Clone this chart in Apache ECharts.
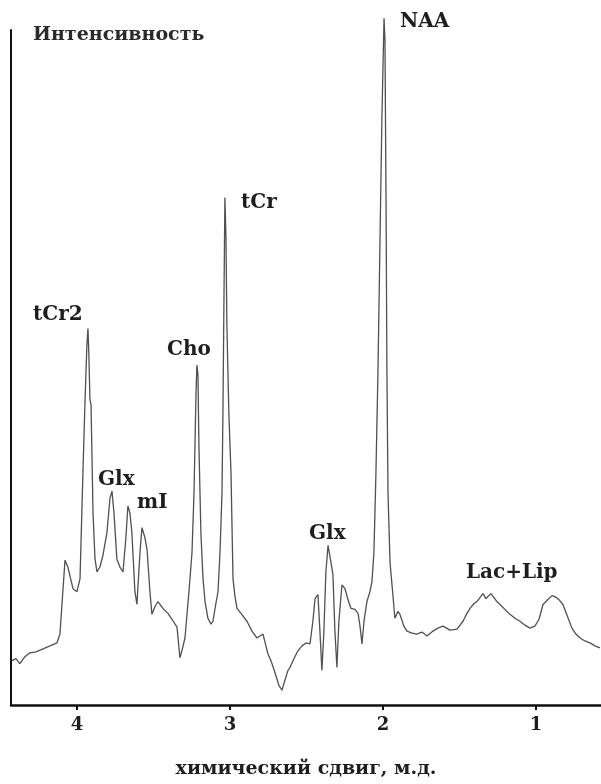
<!DOCTYPE html>
<html>
<head>
<meta charset="utf-8">
<script src="https://cdn.jsdelivr.net/npm/echarts@6/dist/echarts.min.js"></script>
<style>
  html, body { margin: 0; padding: 0; background: #fff; }
  #chart { width: 601px; height: 784px; }
</style>
</head>
<body>
<div id="chart"></div>
<script>
// химический сдвиг, м.д. (ppm)
var shift = [
  4.425, 4.399, 4.373, 4.340, 4.307, 4.268, 4.222, 4.176, 4.131, 4.111,
  4.098, 4.078, 4.059, 4.026, 4.000, 3.980, 3.961, 3.948, 3.935, 3.928,
  3.922, 3.915, 3.908, 3.895, 3.882, 3.869, 3.850, 3.830, 3.804, 3.784,
  3.771, 3.758, 3.739, 3.719, 3.699, 3.680, 3.667, 3.654, 3.641, 3.621,
  3.608, 3.588, 3.575, 3.556, 3.542, 3.523, 3.510, 3.490, 3.471, 3.438,
  3.405, 3.379, 3.346, 3.327, 3.314, 3.294, 3.268, 3.248, 3.235, 3.222,
  3.216, 3.209, 3.203, 3.190, 3.176, 3.163, 3.144, 3.124, 3.111, 3.092,
  3.078, 3.065, 3.052, 3.046, 3.039, 3.033, 3.026, 3.020, 3.007, 2.993,
  2.987, 2.980, 2.967, 2.954, 2.928, 2.889, 2.856, 2.824, 2.784, 2.765,
  2.752, 2.732, 2.706, 2.680, 2.660, 2.641, 2.621, 2.608, 2.582, 2.556,
  2.529, 2.503, 2.477, 2.458, 2.444, 2.425, 2.412, 2.399, 2.386, 2.373,
  2.359, 2.340, 2.327, 2.314, 2.301, 2.288, 2.268, 2.248, 2.229, 2.209,
  2.183, 2.163, 2.150, 2.137, 2.124, 2.105, 2.085, 2.072, 2.059, 2.046,
  2.033, 2.020, 2.007, 1.993, 1.987, 1.980, 1.974, 1.967, 1.954, 1.941,
  1.922, 1.902, 1.889, 1.863, 1.843, 1.810, 1.778, 1.745, 1.712, 1.673,
  1.641, 1.608, 1.562, 1.516, 1.477, 1.451, 1.431, 1.405, 1.386, 1.366,
  1.346, 1.327, 1.314, 1.294, 1.281, 1.255, 1.235, 1.203, 1.170, 1.137,
  1.105, 1.072, 1.039, 1.007, 0.980, 0.954, 0.922, 0.895, 0.876, 0.850,
  0.824, 0.797, 0.765, 0.739, 0.712, 0.680, 0.647, 0.614, 0.582
];
// интенсивность (усл. ед.)
var intensity = [
  45, 47, 42, 49, 53, 54, 57, 60, 63, 72,
  102, 147, 140, 118, 115, 128, 235, 305, 365, 382,
  355, 310, 305, 195, 148, 135, 140, 152, 175, 210,
  217, 195, 148, 140, 135, 170, 202, 195, 175, 115,
  102, 155, 180, 170, 158, 115, 92, 100, 105, 98,
  93, 87, 79, 48, 55, 68, 115, 155, 215, 315,
  345, 335, 265, 175, 128, 105, 88, 82, 85, 103,
  115, 155, 215, 295, 415, 515, 475, 385, 295, 235,
  185, 128, 110, 98, 93, 85, 75, 68, 72, 60,
  52, 45, 33, 20, 15, 25, 35, 38, 47, 55,
  60, 63, 62, 85, 108, 112, 75, 35, 75, 135,
  162, 145, 132, 75, 38, 85, 122, 118, 107, 98,
  97, 93, 80, 62, 85, 105, 115, 125, 155, 235,
  335, 465, 595, 697, 675, 515, 335, 215, 145, 122,
  88, 95, 92, 80, 75, 73, 72, 74, 70, 75,
  78, 80, 76, 77, 85, 93, 98, 103, 105, 109,
  113, 108, 110, 113, 112, 105, 102, 97, 92, 88,
  85, 81, 78, 80, 87, 102, 107, 111, 110, 107,
  102, 91, 78, 72, 68, 65, 63, 60, 58
];
var tickValues = [4, 3, 2, 1];

var serif = '"DejaVu Serif", "Liberation Serif", serif';
var ink = '#1e1e1e';

var spectrum = shift.map(function (s, i) { return [s, intensity[i]]; });

var myChart = echarts.init(document.getElementById('chart'));

function peakText(txt, x, y) {
    return {
        type: 'text',
        x: x,
        y: y,
        style: {
            text: txt,
            fill: ink,
            font: 'bold 20px ' + serif,
            textAlign: 'left',
            textVerticalAlign: 'middle'
        }
    };
}

var option = {
    backgroundColor: '#fff',
    animation: false,
    grid: {
        left: 11,
        right: 0,
        top: 30,
        bottom: 69
    },
    xAxis: {
        type: 'value',
        inverse: true,
        min: 0.575,
        max: 4.431,
        name: 'химический сдвиг, м.д.',
        nameLocation: 'middle',
        nameGap: 55,
        nameTextStyle: {
            fontFamily: serif,
            fontWeight: 'bold',
            fontSize: 19,
            color: ink
        },
        splitLine: { show: false },
        axisLine: {
            onZero: false,
            lineStyle: { color: '#111', width: 2.5 }
        },
        axisTick: {
            customValues: tickValues,
            length: 5,
            lineStyle: { color: '#111', width: 2 }
        },
        axisLabel: {
            customValues: tickValues,
            margin: 11,
            fontFamily: serif,
            fontWeight: 'bold',
            fontSize: 18,
            color: ink
        }
    },
    yAxis: {
        type: 'value',
        min: 0,
        max: 685,
        axisLine: {
            show: true,
            onZero: false,
            lineStyle: { color: '#111', width: 2 }
        },
        axisTick: { show: false },
        axisLabel: { show: false },
        splitLine: { show: false }
    },
    series: [{
        name: 'spectrum',
        type: 'line',
        data: spectrum,
        showSymbol: false,
        clip: false,
        lineStyle: { color: '#505050', width: 1.3 }
    }],
    graphic: [
        {
            type: 'text',
            x: 33,
            y: 35,
            style: {
                text: 'Интенсивность',
                fill: '#2a2a2a',
                font: 'bold 19px ' + serif,
                textAlign: 'left',
                textVerticalAlign: 'middle'
            }
        },
        peakText('NAA', 400, 22),
        peakText('tCr', 241, 203),
        peakText('tCr2', 33, 315),
        peakText('Cho', 167, 350),
        peakText('Glx', 98, 480),
        peakText('mI', 137, 503),
        peakText('Glx', 309, 534),
        peakText('Lac+Lip', 466, 573)
    ]
};

myChart.setOption(option);
</script>
</body>
</html>
